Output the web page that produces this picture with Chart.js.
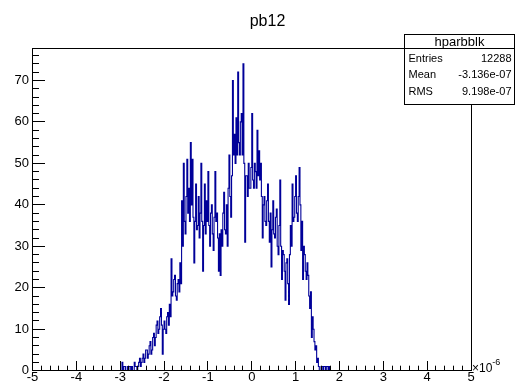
<!DOCTYPE html>
<html>
<head>
<meta charset="utf-8">
<script src="https://cdn.jsdelivr.net/npm/chart.js@4.4.1/dist/chart.umd.min.js"></script>
<style>
  html, body { margin: 0; padding: 0; background: #fff; }
</style>
</head>
<body>
<canvas id="histo" width="516" height="385"></canvas>
<script>
const histTitle = 'pb12';
const histName = 'hparbblk';
const statLabels = ['Entries', 'Mean', 'RMS'];
const statValues = ['12288', '-3.136e-07', '9.198e-07'];
const xTicks = [-5, -4, -3, -2, -1, 0, 1, 2, 3, 4, 5];
const yTicks = [0, 10, 20, 30, 40, 50, 60, 70];
const axisExponent = '-6';

// bin contents (x in units of 1e-6)
const binLow = -2.96;
const binWidth = 0.02;
const counts = [
  2, 0, 1, 1, 0, 0, 1, 0, 1, 1, 0, 1, 0, 0, 2, 1, 1, 0, 1, 2,
  3, 1, 2, 3, 4, 2, 3, 5, 5, 3, 4, 6, 7, 4, 5, 8, 9, 6, 8, 11,
  12, 9, 10, 13, 15, 11, 4, 10, 12, 10, 9, 13, 14, 11, 16, 13, 27, 18, 19, 22,
  23, 18, 17, 21, 22, 19, 26, 21, 41, 30, 50, 36, 33, 42, 51, 38, 44, 36, 55, 40,
  51, 37, 26, 36, 45, 34, 35, 42, 32, 38, 50, 36, 24, 35, 45, 33, 41, 36, 48, 35,
  30, 38, 40, 33, 29, 37, 48, 36, 38, 32, 24, 33, 23, 34, 30, 38, 43, 34, 33, 40,
  30, 44, 52, 42, 37, 47, 70, 52, 57, 50, 61, 52, 72, 55, 52, 60, 62, 52, 74, 50,
  31, 47, 47, 42, 50, 44, 44, 49, 62, 46, 44, 50, 48, 44, 58, 47, 53, 46, 50, 42,
  32, 40, 42, 36, 35, 41, 45, 36, 31, 38, 25, 34, 41, 33, 32, 37, 39, 30, 28, 35,
  46, 30, 22, 29, 28, 24, 17, 26, 27, 21, 16, 28, 35, 30, 45, 36, 37, 42, 47, 38,
  36, 42, 49, 40, 29, 36, 22, 30, 28, 24, 22, 26, 23, 18, 15, 19, 8, 13, 10, 7,
  5, 6, 2, 3, 1, 0, 0, 1, 1, 0, 1, 1, 0, 1, 1, 0, 1, 0
];

const fontFamily = '"Liberation Sans", Arial, Helvetica, sans-serif';

const points = [{ x: binLow, y: 0 }];
counts.forEach((c, i) => points.push({ x: binLow + i * binWidth, y: c }));
points.push({ x: binLow + counts.length * binWidth, y: 0 });

const rootStyle = {
  id: 'rootStyle',
  afterDatasetsDraw(chart) {
    const { ctx, chartArea: a, scales: { x, y } } = chart;
    const L = Math.floor(a.left) + 0.5, R = Math.floor(a.right) + 0.5;
    const T = Math.floor(a.top) + 0.5, B = Math.floor(a.bottom) + 0.5;
    ctx.save();
    ctx.strokeStyle = '#000';
    ctx.lineWidth = 1;
    ctx.strokeRect(L, T, R - L, B - T);
    ctx.beginPath();
    // x ticks: major every 1, minor every 0.2
    for (let k = 0; k <= 50; k++) {
      const v = x.min + k * 0.2;
      const px = Math.floor(x.getPixelForValue(v)) + 0.5;
      ctx.moveTo(px, B);
      ctx.lineTo(px, B - (k % 5 === 0 ? 9.5 : 4.8));
    }
    // y ticks: major every 10, minor every 2
    for (let k = 0; k * 2 <= y.max; k++) {
      const py = Math.floor(y.getPixelForValue(k * 2)) + 0.5;
      ctx.moveTo(L, py);
      ctx.lineTo(L + (k % 5 === 0 ? 12.5 : 6.5), py);
    }
    ctx.stroke();
    ctx.restore();
  },
  afterDraw(chart) {
    const { ctx, chartArea: a } = chart;
    ctx.save();
    ctx.fillStyle = '#000';

    // title
    ctx.font = '16px ' + fontFamily;
    ctx.textAlign = 'center';
    ctx.textBaseline = 'alphabetic';
    ctx.fillText(histTitle, 267.5, 26);

    // axis exponent
    ctx.textAlign = 'left';
    ctx.font = '12px ' + fontFamily;
    const base = '\u00d710';
    const bx = a.right + 1;
    ctx.fillText(base, bx, 372);
    const w = ctx.measureText(base).width;
    ctx.font = '9px ' + fontFamily;
    ctx.fillText(axisExponent, bx + w, 365);

    // stats box
    const bxL = 404.5, bxR = 514.5, bxT = 34.5, bxB = 104.5, hdr = 48.5;
    ctx.fillStyle = '#fff';
    ctx.fillRect(bxL, bxT, bxR - bxL, bxB - bxT);
    ctx.strokeStyle = '#000';
    ctx.lineWidth = 1;
    ctx.strokeRect(bxL, bxT, bxR - bxL, bxB - bxT);
    ctx.beginPath();
    ctx.moveTo(bxL, hdr);
    ctx.lineTo(bxR, hdr);
    ctx.stroke();

    ctx.fillStyle = '#000';
    ctx.textBaseline = 'middle';
    ctx.textAlign = 'center';
    ctx.font = '13px ' + fontFamily;
    ctx.fillText(histName, (bxL + bxR) / 2, 42);
    ctx.font = '11px ' + fontFamily;
    statLabels.forEach((lab, i) => {
      const ty = 58.5 + i * 16.6;
      ctx.textAlign = 'left';
      ctx.fillText(lab, bxL + 4, ty);
      ctx.textAlign = 'right';
      ctx.fillText(statValues[i], bxR - 3, ty);
    });
    ctx.restore();
  }
};

new Chart(document.getElementById('histo'), {
  type: 'line',
  data: {
    datasets: [{
      data: points,
      stepped: 'before',
      borderColor: '#000099',
      borderWidth: 1.1,
      pointRadius: 0,
      fill: false,
      tension: 0
    }]
  },
  options: {
    responsive: false,
    animation: false,
    events: [],
    layout: { padding: { top: 48.5, right: 45, left: 0, bottom: 0 } },
    plugins: { legend: { display: false }, title: { display: false }, tooltip: { enabled: false } },
    scales: {
      x: {
        type: 'linear',
        min: -5,
        max: 5,
        grid: { display: false, drawTicks: false },
        border: { display: false },
        afterBuildTicks: s => { s.ticks = xTicks.map(v => ({ value: v })); },
        afterFit: s => { s.height = 385 - 370.7; },
        ticks: {
          autoSkip: false,
          maxRotation: 0,
          padding: 0,
          color: '#000',
          font: { family: fontFamily, size: 13, lineHeight: 1 },
          callback: v => String(v)
        }
      },
      y: {
        type: 'linear',
        min: 0,
        max: 77.7,
        grid: { display: false, drawTicks: false },
        border: { display: false },
        afterBuildTicks: s => { s.ticks = yTicks.map(v => ({ value: v })); },
        afterFit: s => { s.width = 32.5; },
        ticks: {
          padding: 3.5,
          color: '#000',
          font: { family: fontFamily, size: 13 },
          callback: v => String(v)
        }
      }
    }
  },
  plugins: [rootStyle]
});
</script>
</body>
</html>
